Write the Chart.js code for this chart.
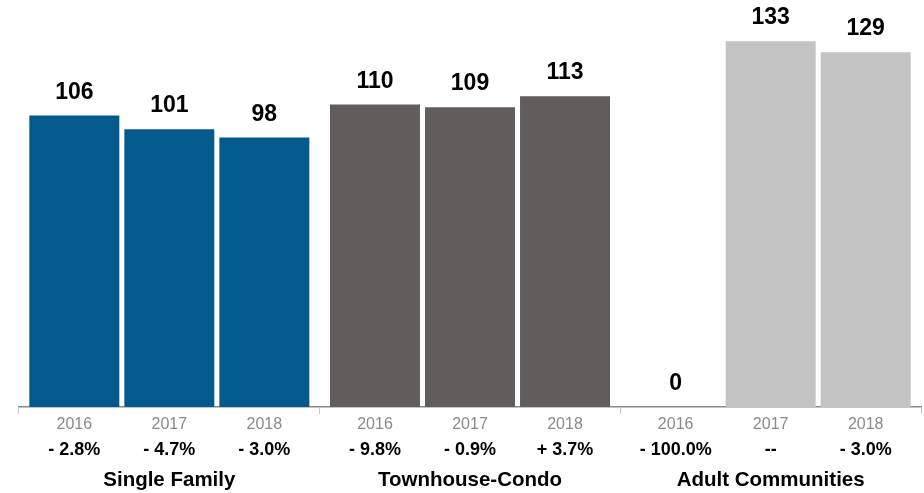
<!DOCTYPE html>
<html>
<head>
<meta charset="utf-8">
<script src="https://cdn.jsdelivr.net/npm/chart.js@4/dist/chart.umd.min.js"></script>
<style>
html,body{margin:0;padding:0;background:#fff;}
canvas{display:block;}
</style>
</head>
<body>
<canvas id="c" width="924" height="493"></canvas>
<script>
const groups = ['Single Family', 'Townhouse-Condo', 'Adult Communities'];
const years = ['2016', '2017', '2018'];
const values2016 = [106, 110, 0];
const values2017 = [101, 109, 133];
const values2018 = [98, 113, 129];
const change2016 = ['- 2.8%', '- 9.8%', '- 100.0%'];
const change2017 = ['- 4.7%', '- 0.9%', '--'];
const change2018 = ['- 3.0%', '+ 3.7%', '- 3.0%'];
const groupColors = ['#035A8D', '#625D5D', '#C3C3C3'];

const FONT = '"Liberation Sans", Arial, Helvetica, sans-serif';
const changes = [change2016, change2017, change2018];

const labelPlugin = {
  id: 'labels',
  afterDatasetsDraw(chart) {
    const ctx = chart.ctx;
    ctx.save();
    ctx.textAlign = 'center';
    chart.data.datasets.forEach((ds, di) => {
      const meta = chart.getDatasetMeta(di);
      meta.data.forEach((bar, i) => {
        ctx.fillStyle = '#000';
        ctx.font = 'bold 23px ' + FONT;
        ctx.textBaseline = 'alphabetic';
        ctx.fillText(String(ds.data[i]), bar.x, bar.y - 17);
        ctx.fillStyle = '#8a8a8a';
        ctx.font = '16px ' + FONT;
        ctx.fillText(years[di], bar.x, 428.5);
        ctx.fillStyle = '#000';
        ctx.font = 'bold 18px ' + FONT;
        ctx.fillText(changes[di][i], bar.x, 455);
      });
    });
    ctx.restore();
  }
};

new Chart(document.getElementById('c'), {
  type: 'bar',
  data: {
    labels: groups,
    datasets: [
      { label: years[0], data: values2016, backgroundColor: groupColors },
      { label: years[1], data: values2017, backgroundColor: groupColors },
      { label: years[2], data: values2018, backgroundColor: groupColors }
    ]
  },
  options: {
    responsive: false,
    animation: false,
    layout: { padding: { left: 19, right: 3, top: 0, bottom: 0 } },
    categoryPercentage: 0.948,
    barPercentage: 0.947,
    plugins: { legend: { display: false }, tooltip: { enabled: false } },
    scales: {
      y: { display: false, min: 0, max: 148 },
      x: {
        afterFit(scale) { scale.height = 86; },
        grid: { display: true, drawOnChartArea: false, offset: true, tickLength: 7, color: '#c8c8c8', lineWidth: 1 },
        border: { display: true, color: '#8a8a8a', width: 1.5 },
        ticks: { color: '#000', padding: 54, font: { family: FONT, size: 20.5, weight: 'bold' } }
      }
    }
  },
  plugins: [labelPlugin]
});
</script>
</body>
</html>
